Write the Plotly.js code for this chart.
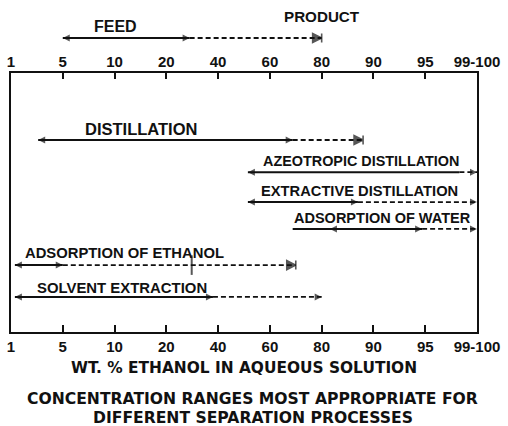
<!DOCTYPE html>
<html>
<head>
<meta charset="utf-8">
<script src="https://cdn.plot.ly/plotly-3.0.1.min.js"></script>
<style>html,body{margin:0;padding:0;background:#fff;}#chart{width:508px;height:426px;}</style>
</head>
<body>
<div id="chart"></div>
<script>
// ---- data (wt. % ethanol) ----
const tickValues = [1, 5, 10, 20, 40, 60, 80, 90, 95, 100];
const tickLabels = ['1', '5', '10', '20', '40', '60', '80', '90', '95', '99-100'];

const processNames = ['FEED', 'DISTILLATION', 'AZEOTROPIC DISTILLATION', 'EXTRACTIVE DISTILLATION',
                      'ADSORPTION OF WATER', 'ADSORPTION OF ETHANOL', 'SOLVENT EXTRACTION'];
const solidFrom = [5, 3.1, 51.5, 51.5, 68.8, 1.3, 1.3];     // start of solid (most appropriate) range
const solidTo   = [29, 68.8, 98.3, 87, 94.7, 5, 38];        // end of solid range
const dashTo    = [80, 88, 100, 100, 100, 70, 80];          // end of dashed (possible) range
const innerMark = [null, null, null, null, 81.6, 29.8, null]; // extra mark inside a range
const productLabel = 'PRODUCT';

// ---- layout config (positions / styles) ----
const rowLevel  = [0, 0, 1.03, 1.99, 2.85, 4.01, 5.03];
const rowAxis   = ['y3', 'y', 'y', 'y', 'y', 'y', 'y'];
const startSym  = ['arrow-left', 'arrow-left', 'arrow-left', 'arrow-left', null, 'arrow-left', 'arrow-left'];
const midSym    = ['arrow-right', 'arrow-right', null, 'arrow-right', 'arrow-right', 'arrow-right', 'arrow-right'];
const endSym    = ['arrow-bar-right', 'arrow-bar-right', 'arrow-right', 'arrow-right', 'arrow-right', 'arrow-bar-right', 'arrow-right'];
const innerSym  = [null, null, null, null, 'arrow-left', 'line-ns', null];
const labelX    = [1.56, 1.39, 4.83, 4.79, 5.42, 0.23, 0.46];  // in axis index units
const labelSize = [16, 16.5, 14.4, 14.7, 14.5, 14.8, 14.9];
const labelShift= [11, 11, 11, 11, 11, 12, 9];

// piecewise scale: wt% -> evenly spaced tick index
function toIdx(v) {
  for (let i = 0; i < tickValues.length - 1; i++) {
    const a = tickValues[i], b = tickValues[i + 1];
    if (v <= b || i === tickValues.length - 2) return i + (v - a) / (b - a);
  }
}

const traces = [];
const annotations = [];
const ink = '#111';
const labelFont = {family: 'Liberation Sans, Arial, sans-serif', color: ink, weight: 'bold'};

function symSize(s) { return s === 'line-ns' ? 14 : (s === 'arrow-bar-right' ? 9 : 7); }
function symLine(s) { return s === 'line-ns' ? 2 : (s === 'arrow-bar-right' ? 1.6 : 0); }

processNames.forEach((name, i) => {
  const y = rowLevel[i], ya = rowAxis[i];
  traces.push({x: [toIdx(solidFrom[i]), toIdx(solidTo[i])], y: [y, y], xaxis: 'x', yaxis: ya,
    mode: 'lines', line: {color: ink, width: 2}, hoverinfo: 'skip', showlegend: false});
  traces.push({x: [toIdx(solidTo[i]), toIdx(dashTo[i])], y: [y, y], xaxis: 'x', yaxis: ya,
    mode: 'lines', line: {color: ink, width: 1.8, dash: '5px,3px'}, hoverinfo: 'skip', showlegend: false});
  const mx = [], ms = [];
  if (startSym[i]) { mx.push(toIdx(solidFrom[i])); ms.push(startSym[i]); }
  if (midSym[i]) { mx.push(toIdx(solidTo[i])); ms.push(midSym[i]); }
  if (endSym[i]) { mx.push(toIdx(dashTo[i])); ms.push(endSym[i]); }
  if (innerSym[i] && innerMark[i] !== null) { mx.push(toIdx(innerMark[i])); ms.push(innerSym[i]); }
  traces.push({x: mx, y: mx.map(() => y), xaxis: 'x', yaxis: ya, mode: 'markers', cliponaxis: false,
    marker: {symbol: ms, size: ms.map(symSize), color: ink, line: {color: ink, width: ms.map(symLine)}},
    hoverinfo: 'skip', showlegend: false});
  annotations.push({text: name, x: labelX[i], y: y, xref: 'x', yref: ya, xanchor: 'left', yanchor: 'middle',
    yshift: labelShift[i], showarrow: false, font: Object.assign({size: labelSize[i]}, labelFont)});
});

// PRODUCT label centred over the end of the feed range
annotations.push({text: productLabel, x: toIdx(dashTo[0]), y: rowLevel[0], xref: 'x', yref: 'y3',
  xanchor: 'center', yanchor: 'middle', yshift: 21, showarrow: false,
  font: Object.assign({size: 15.2}, labelFont)});

// caption (two lines)
const titleFont = {family: 'DejaVu Sans, sans-serif', size: 15.6, color: ink, weight: 'bold'};
annotations.push({text: 'CONCENTRATION RANGES MOST APPROPRIATE FOR', xref: 'paper', yref: 'paper',
  x: 0.519, y: -0.2078, xanchor: 'center', yanchor: 'middle', showarrow: false, borderpad: 0, font: titleFont});
annotations.push({text: 'DIFFERENT SEPARATION PROCESSES', xref: 'paper', yref: 'paper',
  x: 0.519, y: -0.2658, xanchor: 'center', yanchor: 'middle', showarrow: false, borderpad: 0, font: titleFont});

const idx = tickValues.map((v) => toIdx(v));
const tickFont = {family: 'Liberation Sans, Arial, sans-serif', size: 15, color: ink, weight: 'bold'};

const layout = {
  width: 508, height: 426,
  margin: {l: 11, r: 31, t: 10, b: 94},
  paper_bgcolor: '#fff', plot_bgcolor: '#fff',
  showlegend: false,
  xaxis: {range: [0, 9], tickmode: 'array', tickvals: idx, ticktext: tickLabels, ticks: 'inside',
    ticklen: 7, tickwidth: 2, tickcolor: ink, showline: true, linewidth: 2, linecolor: ink,
    mirror: true, showgrid: false, zeroline: false, tickfont: tickFont, anchor: 'y',
    title: {text: 'WT. % ETHANOL IN AQUEOUS SOLUTION', font: {family: 'DejaVu Sans, sans-serif', size: 15.4, color: ink, weight: 'bold'}, standoff: 8}},
  xaxis2: {range: [0, 9], overlaying: 'x', side: 'top', anchor: 'y', tickmode: 'array', tickvals: idx,
    ticktext: tickLabels, ticks: 'inside', ticklen: 6, tickwidth: 2, tickcolor: ink, showline: false,
    showgrid: false, zeroline: false, tickfont: tickFont, ticklabelstandoff: 2},
  yaxis: {domain: [0, 0.8043], range: [6.154, -2.147], showline: true, linewidth: 2, linecolor: ink,
    mirror: true, showticklabels: false, ticks: '', showgrid: false, zeroline: false},
  yaxis3: {domain: [0.8509, 0.9752], range: [-1, 1], showline: false, showticklabels: false, ticks: '',
    showgrid: false, zeroline: false},
  annotations: annotations
};

// an invisible trace so the top axis is drawn
traces.push({x: [0, 9], y: [0, 0], xaxis: 'x2', yaxis: 'y', mode: 'none', hoverinfo: 'skip', showlegend: false});

Plotly.newPlot('chart', traces, layout, {displayModeBar: false, staticPlot: true});
</script>
</body>
</html>
